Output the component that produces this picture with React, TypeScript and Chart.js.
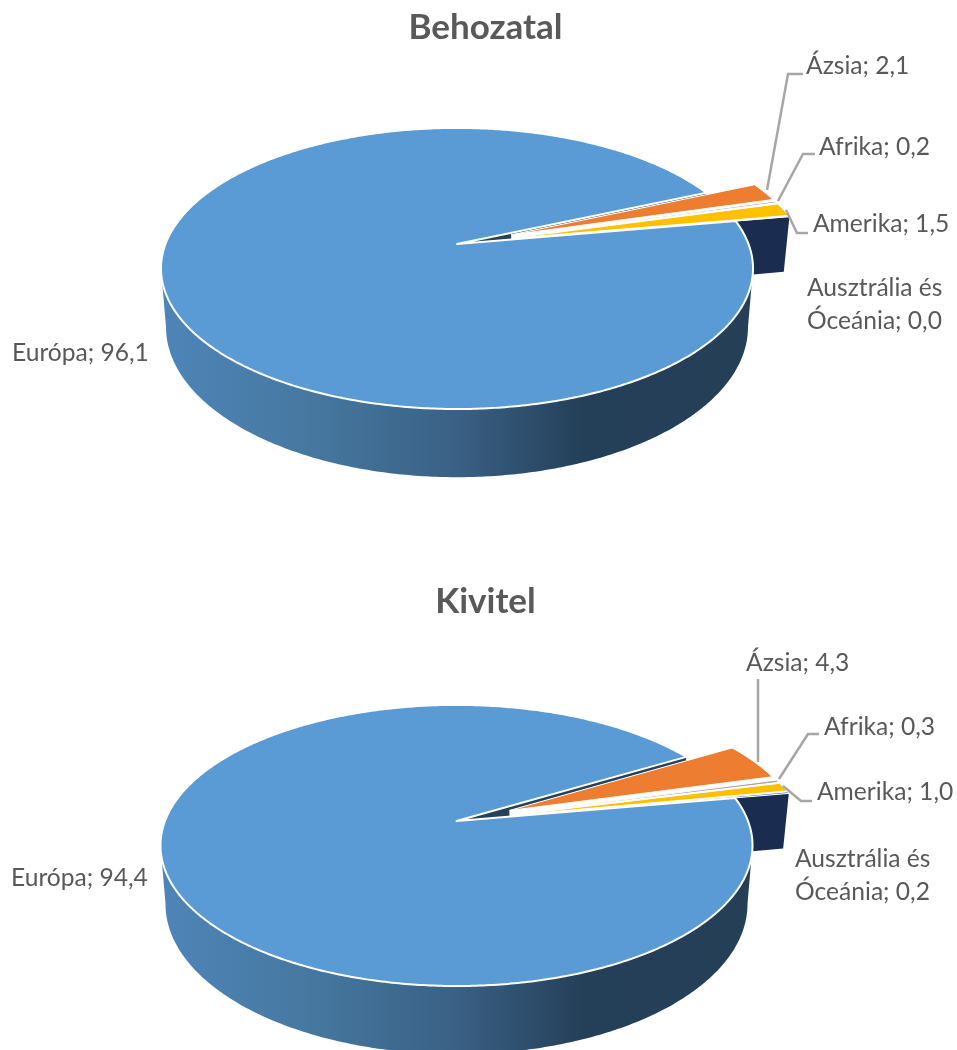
import React, { useEffect, useRef } from "react";
import { Chart, registerables } from "chart.js";

Chart.register(...registerables);

const categories = ["Európa", "Ázsia", "Afrika", "Amerika", "Ausztrália és\nÓceánia"];
const importValues = [96.1, 2.1, 0.2, 1.5, 0.0];
const exportValues = [94.4, 4.3, 0.3, 1.0, 0.2];
const sliceColors = ["#5B9BD5", "#ED7D31", "#A5A5A5", "#FFC000", "#4472C4"];

const FONT = "Lato, Carlito, sans-serif";
const TEXT = "#595959";
const LINE = "#A6A6A6";
const W = 957;
const H = 525;
const E = 0.174;
const A = 291.5;
const B = 136.3;
const EXPLODE = 0.2;
const DEPTH_BASE = 57;
const DEPTH_SLOPE = 0.0677;
const DEPTH_XS = 0.983;

type Pt = [number, number];
type Layout = {
  title: string;
  values: number[];
  cx: number;
  cy: number;
  titleTop: number;
  labels: { x: number; y: number }[];
  leaders: Pt[][];
};

const charts: Layout[] = [
  {
    title: "Behozatal",
    values: importValues,
    cx: 457,
    cy: 244,
    titleTop: 7,
    labels: [
      { x: 12, y: 361 },
      { x: 806, y: 74 },
      { x: 819, y: 155 },
      { x: 813, y: 232 },
      { x: 807, y: 296 },
    ],
    leaders: [
      [[767, 190], [788, 74], [803, 74]],
      [[778, 201], [803, 154], [815, 154]],
      [[786, 210], [797, 233], [808, 233]],
    ],
  },
  {
    title: "Kivitel",
    values: exportValues,
    cx: 456.5,
    cy: 296,
    titleTop: 56,
    labels: [
      { x: 11, y: 361 },
      { x: 746, y: 146 },
      { x: 824, y: 210 },
      { x: 817, y: 275 },
      { x: 795, y: 342 },
    ],
    leaders: [
      [[758, 237], [758, 154]],
      [[779, 254], [808, 209], [819, 209]],
      [[783, 261], [801, 276], [812, 276]],
    ],
  },
];

function makePlugin(l: Layout) {
  const top = (u: number, v: number): Pt => {
    const d = 1 - E * v;
    return [l.cx + (A * u) / d, l.cy + (B * v) / d];
  };
  const low = (p: Pt): Pt => [
    l.cx + (p[0] - l.cx) * DEPTH_XS,
    p[1] + DEPTH_BASE + DEPTH_SLOPE * (p[1] - l.cy),
  ];
  const shift = (s: number, e: number): Pt => {
    const m = (s + e) / 2;
    return [EXPLODE * Math.cos(m), EXPLODE * Math.sin(m)];
  };
  const rim = (a: number, o: Pt): Pt => top(Math.cos(a) + o[0], Math.sin(a) + o[1]);
  const poly = (ctx: CanvasRenderingContext2D, pts: Pt[]) => {
    ctx.beginPath();
    pts.forEach((p, i) => (i ? ctx.lineTo(p[0], p[1]) : ctx.moveTo(p[0], p[1])));
    ctx.closePath();
  };
  const arcPts = (s: number, e: number, o: Pt): Pt[] => {
    const n = Math.max(1, Math.ceil(Math.abs(e - s) / 0.01));
    const out: Pt[] = [];
    for (let i = 0; i <= n; i++) out.push(rim(s + ((e - s) * i) / n, o));
    return out;
  };
  return {
    id: "perspective" + l.title,
    beforeDatasetDraw(chart: any) {
      const ctx: CanvasRenderingContext2D = chart.ctx;
      const arcs: any[] = chart.getDatasetMeta(0).data;
      const eu = arcs[0];
      const zero: Pt = [0, 0];
      const apex = top(0, 0);
      ctx.save();
      ctx.lineJoin = "round";

      // side of the big slice, between the two silhouette points
      const t0 = Math.asin(E);
      const frontTop = arcPts(t0, Math.PI - t0, zero);
      const front = [...frontTop, ...frontTop.slice().reverse().map(low)];
      const g = ctx.createLinearGradient(l.cx - 292, 0, l.cx + 292, 0);
      g.addColorStop(0, "#4E84B8");
      g.addColorStop(0.25, "#46789F");
      g.addColorStop(0.5, "#3A6085");
      g.addColorStop(0.72, "#243F58");
      g.addColorStop(1, "#243F56");
      ctx.fillStyle = g;
      poly(ctx, front);
      ctx.fill();

      // inner cut face of the big slice, seen through the gap
      const euEnd = rim(eu.endAngle, zero);
      ctx.fillStyle = "#24405A";
      poly(ctx, [apex, euEnd, low(euEnd), low(apex)]);
      ctx.fill();

      // white floor under the pulled-out slices
      const small = arcs.slice(1);
      const firstO = shift(small[0].startAngle, small[0].endAngle);
      const last = small[small.length - 1];
      const lastO = shift(last.startAngle, last.endAngle);
      const firstApex = top(firstO[0], firstO[1]);
      const lastRim = rim(last.endAngle, lastO);
      ctx.fillStyle = "#FFFFFF";
      poly(ctx, [
        firstApex,
        rim(small[0].startAngle, firstO),
        lastRim,
        [lastRim[0], lastRim[1] + 60],
        [firstApex[0], firstApex[1] + 60],
      ]);
      ctx.fill();

      // cut face of the last pulled-out slice
      const lastApex = top(lastO[0], lastO[1]);
      ctx.fillStyle = "#1A2C50";
      poly(ctx, [lastApex, lastRim, low(lastRim), low(lastApex)]);
      ctx.fill();

      // top faces of the pulled-out slices
      small.forEach((a, i) => {
        const o = shift(a.startAngle, a.endAngle);
        poly(ctx, [top(o[0], o[1]), ...arcPts(a.startAngle, a.endAngle, o)]);
        ctx.fillStyle = sliceColors[i + 1];
        ctx.fill();
        ctx.strokeStyle = "#FFFFFF";
        ctx.lineWidth = 1;
        ctx.stroke();
      });

      // top face of the big slice
      poly(ctx, [apex, ...arcPts(eu.startAngle, eu.endAngle, zero)]);
      ctx.fillStyle = sliceColors[0];
      ctx.fill();
      ctx.strokeStyle = "#FFFFFF";
      ctx.lineWidth = 2;
      ctx.stroke();

      // leader lines
      ctx.strokeStyle = LINE;
      ctx.lineWidth = 2.5;
      ctx.lineJoin = "miter";
      l.leaders.forEach((pts) => {
        ctx.beginPath();
        pts.forEach((p, i) => (i ? ctx.lineTo(p[0], p[1]) : ctx.moveTo(p[0], p[1])));
        ctx.stroke();
      });

      // data labels
      ctx.fillStyle = TEXT;
      ctx.font = `400 24.6px ${FONT}`;
      ctx.textBaseline = "alphabetic";
      ctx.textAlign = "left";
      categories.forEach((c, i) => {
        const txt = `${c}; ${l.values[i].toFixed(1).replace(".", ",")}`;
        txt.split("\n").forEach((line, k) => {
          ctx.fillText(line, l.labels[i].x, l.labels[i].y + k * 33);
        });
      });
      ctx.restore();
      return false;
    },
  };
}

function Pie({ layout, top }: { layout: Layout; top: number }) {
  const ref = useRef<HTMLCanvasElement | null>(null);
  useEffect(() => {
    const chart = new Chart(ref.current as HTMLCanvasElement, {
      type: "pie",
      data: {
        labels: categories.map((c) => c.replace("\n", " ")),
        datasets: [{ data: layout.values, backgroundColor: sliceColors }],
      },
      options: {
        animation: false,
        responsive: false,
        devicePixelRatio: 1,
        rotation: 80,
        layout: { padding: { left: 14 } },
        plugins: {
          legend: { display: false },
          tooltip: { enabled: false },
          title: {
            display: true,
            text: layout.title,
            color: TEXT,
            font: { family: FONT, size: 35, weight: "bold" },
            padding: { top: layout.titleTop, bottom: 0 },
          },
        },
      },
      plugins: [makePlugin(layout)],
    } as any);
    return () => chart.destroy();
  }, [layout]);
  return (
    <canvas
      ref={ref}
      width={W}
      height={H}
      style={{ position: "absolute", left: 0, top, width: W, height: H, display: "block" }}
    />
  );
}

export default function App() {
  return (
    <div style={{ position: "absolute", left: 0, top: 0, width: W, height: H * 2, background: "#fff", overflow: "hidden" }}>
      <Pie layout={charts[0]} top={0} />
      <Pie layout={charts[1]} top={H} />
    </div>
  );
}
